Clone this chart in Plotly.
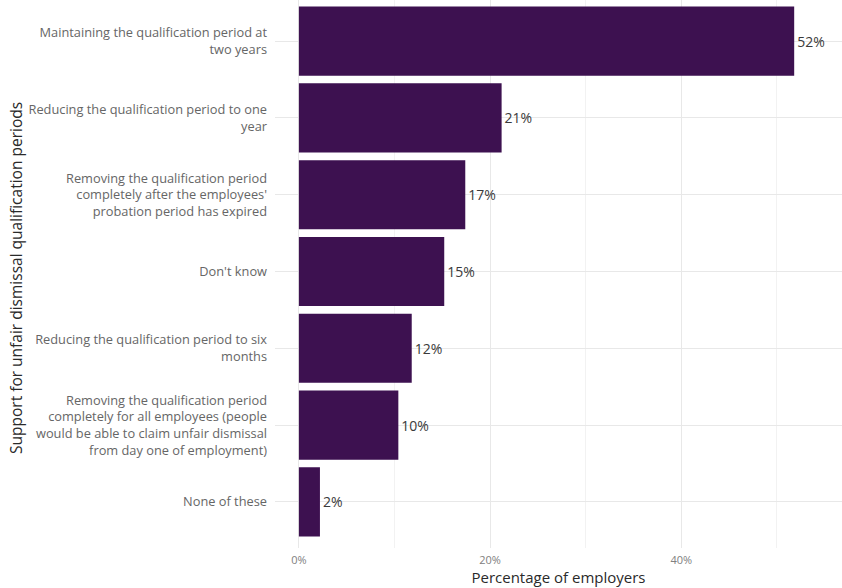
import plotly.graph_objects as go

categories = [
    "Maintaining the qualification period at<br>two years",
    "Reducing the qualification period to one<br>year",
    "Removing the qualification period<br>completely after the employees'<br>probation period has expired",
    "Don't know",
    "Reducing the qualification period to six<br>months",
    "Removing the qualification period<br>completely for all employees (people<br>would be able to claim unfair dismissal<br>from day one of employment)",
    "None of these",
]
values = [51.8, 21.2, 17.4, 15.2, 11.8, 10.4, 2.2]
bar_labels = [f"{round(v)}%" for v in values]
tick_vals = [0, 20, 40]
tick_text = ["0%", "20%", "40%"]

FONT = "Open Sans"
L, R, T, B = 275, 0, 0, 40
PLOT_W = 842 - L - R

fig = go.Figure()
fig.add_trace(go.Bar(
    x=values,
    y=categories,
    orientation="h",
    marker=dict(color="#3d1150", line=dict(width=0)),
    width=0.9,
    text=bar_labels,
    textposition="outside",
    textfont=dict(family=FONT, size=14, color="#3a3a3a"),
    cliponaxis=False,
    hoverinfo="skip",
))

fig.update_layout(
    width=842, height=588,
    margin=dict(l=L, r=R, t=T, b=B),
    paper_bgcolor="white",
    plot_bgcolor="white",
    showlegend=False,
    font=dict(family=FONT),
    xaxis=dict(
        range=[-2.5, 56.8],
        tickvals=tick_vals,
        ticktext=tick_text,
        tickfont=dict(family=FONT, size=11, color="#808080"),
        showgrid=True,
        gridcolor="#e8e8e8",
        gridwidth=1,
        minor=dict(dtick=10, tick0=0, showgrid=True, gridcolor="#f2f2f2", gridwidth=1),
        zeroline=False,
        showline=False,
        ticks="",
        ticklabelstandoff=4,
        title=dict(text="Percentage of employers",
                   font=dict(family=FONT, size=15, color="#2a2a2a"),
                   standoff=2),
    ),
    yaxis=dict(
        categoryorder="array",
        categoryarray=categories,
        range=[6.6, -0.535],
        tickfont=dict(family=FONT, size=12.8, color="#666666"),
        showgrid=True,
        gridcolor="#e8e8e8",
        gridwidth=1,
        zeroline=False,
        showline=False,
        ticks="",
        ticklabelstandoff=7,
    ),
    annotations=[dict(
        text="Support for unfair dismissal qualification periods",
        xref="paper", yref="paper",
        x=-L / PLOT_W, y=0.5,
        xanchor="left", yanchor="middle",
        xshift=3,
        yshift=-4,
        textangle=-90,
        showarrow=False,
        font=dict(family=FONT, size=15.5, color="#2a2a2a"),
    )],
)

fig.write_html(
    "out.html",
    config={"displayModeBar": False},
    post_script="document.body.style.margin='0';document.body.style.overflow='hidden';",
)
